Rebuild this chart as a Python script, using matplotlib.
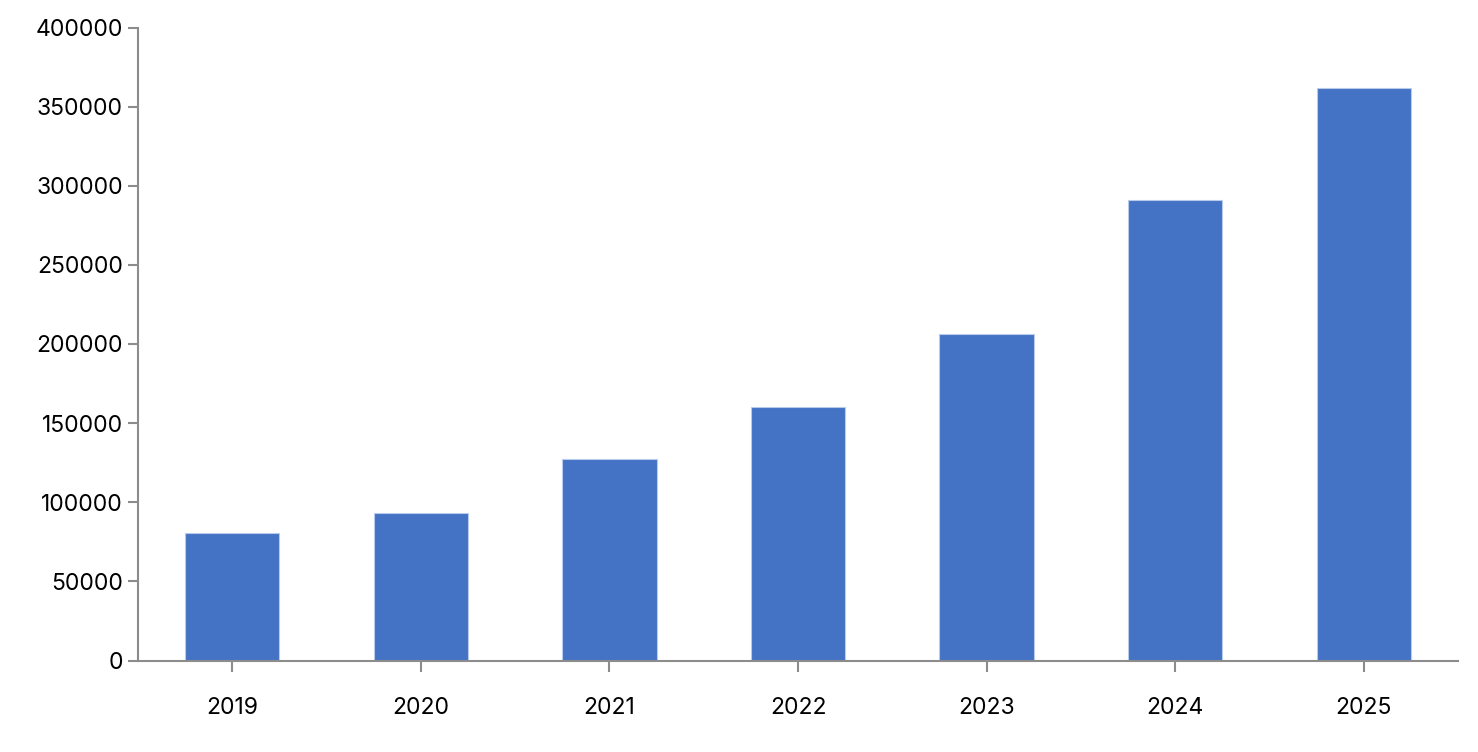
import matplotlib
matplotlib.use("Agg")
import matplotlib.pyplot as plt

years = ["2019", "2020", "2021", "2022", "2023", "2024", "2025"]
values = [80500, 93500, 127300, 160200, 206300, 291000, 362000]
yticks = [0, 50000, 100000, 150000, 200000, 250000, 300000, 350000, 400000]

plt.rcParams['font.family'] = ['Inter', 'DejaVu Sans']

W, H = 1478, 752
fig = plt.figure(figsize=(W/100, H/100), dpi=100)
ax = fig.add_axes([138/W, 1-660.5/H, (1458-138)/W, (660.5-27.5)/H])

x = list(range(len(years)))
ax.bar(x, values, width=0.5, color="#4472C4", edgecolor="#B8CBEB", linewidth=0.8, zorder=2)

ax.set_xlim(-0.5, len(years)-0.5)
ax.set_ylim(0, 400000)
ax.set_xticks(x)
ax.set_xticklabels(years)
ax.set_yticks(yticks)
ax.set_yticklabels([str(v) for v in yticks])

for s in ["top", "right"]:
    ax.spines[s].set_visible(False)
for s in ["left", "bottom"]:
    ax.spines[s].set_color("#8c8c8c")
    ax.spines[s].set_linewidth(1.5)

ax.tick_params(axis="y", colors="#8c8c8c", length=7, width=1.5, labelcolor="black", labelsize=16.5, pad=4)
ax.tick_params(axis="x", colors="#8c8c8c", length=8, width=1.5, labelcolor="black", labelsize=16.5, pad=18)

fig.savefig("out.png", dpi=100)
